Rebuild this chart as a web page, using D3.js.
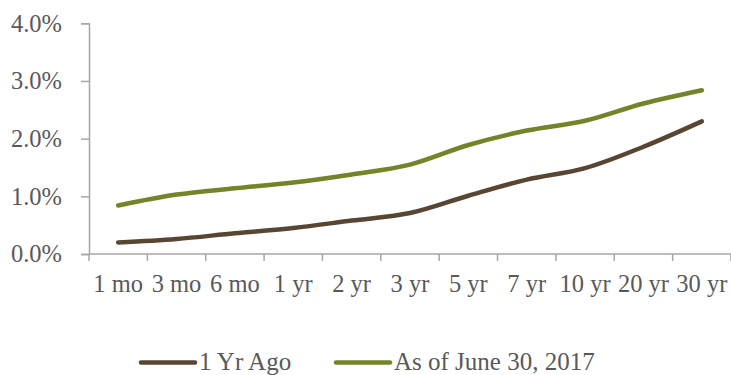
<!DOCTYPE html>
<html>
<head>
<meta charset="utf-8">
<script src="https://cdn.jsdelivr.net/npm/d3@7"></script>
<style>
  html, body { margin: 0; padding: 0; background: #fff; }
  svg { display: block; }
  text { font-family: "Liberation Serif", "Times New Roman", serif; fill: #595959; }
</style>
</head>
<body>
<svg id="chart" width="731" height="375"></svg>
<script>
const categories = ["1 mo", "3 mo", "6 mo", "1 yr", "2 yr", "3 yr", "5 yr", "7 yr", "10 yr", "20 yr", "30 yr"];
const yearAgo = [0.20, 0.26, 0.36, 0.45, 0.58, 0.71, 1.01, 1.29, 1.49, 1.86, 2.30];
const june2017 = [0.84, 1.03, 1.14, 1.24, 1.38, 1.55, 1.89, 2.14, 2.31, 2.61, 2.84];
const seriesNames = ["1 Yr Ago", "As of June 30, 2017"];
const seriesColors = ["#584633", "#748429"];
const yTicks = [0, 1, 2, 3, 4];

(function () {
const svg = d3.select("#chart");
const fs = 24.5;
const mLeft = 89, mRight = 731, mTop = 23.3, mBottom = 254;

const x = d3.scaleBand().domain(categories).range([mLeft, mRight]);
const y = d3.scaleLinear().domain([0, 4]).range([mBottom, mTop]);

// Y axis
const yAxis = svg.append("g").attr("transform", `translate(${mLeft},0)`)
  .call(d3.axisLeft(y).tickValues(yTicks).tickSize(8).tickFormat(""));
yAxis.select(".domain").attr("stroke", "#a6a6a6").attr("stroke-width", 1.5);
yAxis.selectAll(".tick line").attr("stroke", "#a6a6a6").attr("stroke-width", 1.5);

svg.append("g").selectAll("text").data(yTicks).join("text")
  .attr("text-anchor", "end")
  .attr("font-size", fs)
  .attr("x", 62)
  .attr("y", d => y(d) + 8.4)
  .text(d => d.toFixed(1) + "%");

// X axis
const xTickPos = categories.map(c => x(c)).concat([mRight]);
const xAxisG = svg.append("g");
xAxisG.append("line").attr("x1", mLeft).attr("x2", mRight).attr("y1", mBottom).attr("y2", mBottom)
  .attr("stroke", "#a6a6a6").attr("stroke-width", 1.5);
xAxisG.selectAll("line.t").data(xTickPos).join("line").attr("class", "t")
  .attr("x1", d => d).attr("x2", d => d).attr("y1", mBottom).attr("y2", mBottom + 7)
  .attr("stroke", "#a6a6a6").attr("stroke-width", 1.5);

svg.append("g").selectAll("text").data(categories).join("text")
  .attr("text-anchor", "middle")
  .attr("font-size", fs)
  .attr("x", d => x(d) + x.bandwidth() / 2)
  .attr("y", 292)
  .text(d => d);

// Lines
const line = d3.line()
  .x((d, i) => x(categories[i]) + x.bandwidth() / 2)
  .y(d => y(d))
  .curve(d3.curveCatmullRom.alpha(0.5));

[yearAgo, june2017].forEach((s, i) => {
  svg.append("path").datum(s)
    .attr("d", line)
    .attr("fill", "none")
    .attr("stroke", seriesColors[i])
    .attr("stroke-width", 4.5)
    .attr("stroke-linecap", "round")
    .attr("stroke-linejoin", "round");
});

// Legend
const legendItems = [
  { name: seriesNames[0], color: seriesColors[0], x0: 141 },
  { name: seriesNames[1], color: seriesColors[1], x0: 336 }
];
const lg = svg.append("g");
legendItems.forEach(it => {
  lg.append("line").attr("x1", it.x0).attr("x2", it.x0 + 54)
    .attr("y1", 362.5).attr("y2", 362.5)
    .attr("stroke", it.color).attr("stroke-width", 4.5).attr("stroke-linecap", "round");
  lg.append("text").attr("font-size", 25)
    .attr("x", it.x0 + 58)
    .attr("y", 370)
    .text(it.name);
});
})();
</script>
</body>
</html>
